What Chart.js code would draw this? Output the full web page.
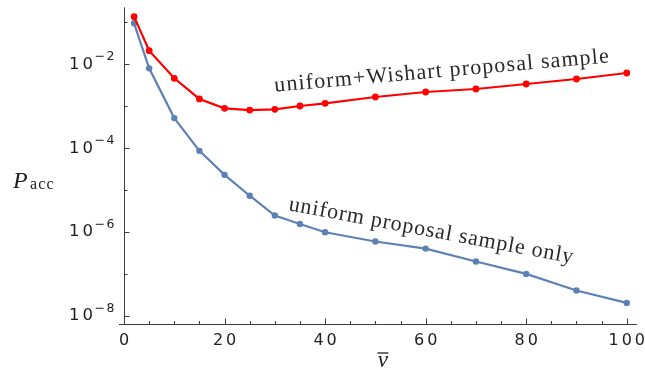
<!DOCTYPE html>
<html><head><meta charset="utf-8">
<script src="https://cdn.jsdelivr.net/npm/chart.js@4/dist/chart.umd.min.js"></script>
<style>html,body{margin:0;padding:0;background:#fff}#wrap{width:645px;height:369px}</style>
</head><body><div id="wrap"><canvas id="c" width="645" height="369"></canvas></div>
<script>
// ---- data ----
const nuValues = [2, 5, 10, 15, 20, 25, 30, 35, 40, 50, 60, 70, 80, 90, 100];
const pAccWishart = [0.137, 0.0211, 0.00463, 0.00149, 8.9e-4, 8.1e-4, 8.4e-4, 1.01e-3, 1.17e-3, 1.66e-3, 2.18e-3, 2.57e-3, 3.39e-3, 4.46e-3, 6.2e-3];
const pAccUniform = [0.095, 8.0e-3, 5.2e-4, 8.6e-5, 2.3e-5, 7.3e-6, 2.46e-6, 1.55e-6, 9.8e-7, 5.9e-7, 4.0e-7, 1.96e-7, 9.96e-8, 4.0e-8, 2.02e-8];
const seriesNames = ['uniform+Wishart proposal sample', 'uniform proposal sample only'];
const xMajorTicks = [0, 20, 40, 60, 80, 100];
const xTickLabels = ['0', '20', '40', '60', '80', '100'];
const xMinorTicks = [5, 10, 15, 25, 30, 35, 45, 50, 55, 65, 70, 75, 85, 90, 95];
const yMajorExponents = [-2, -4, -6, -8];
const yMinorExponents = [-1, -3, -5, -7];
// annotation anchors in data coordinates
const labelAnchorWishart = {x: 30, y: 2.22e-3, angle: -5.0};
const labelAnchorUniform = {x: 32.6, y: 3.3e-6, angle: 10.6};

const AXIS = '#3c3c3c';
const TEXT = '#1e1e1e';
const RED = '#ff0000';
const BLUE = '#5e81b5';

function drawSpaced(ctx, text, x, y, spacing) {
  try { ctx.letterSpacing = spacing + 'px'; } catch (e) {}
  ctx.fillText(text, x, y);
  try { ctx.letterSpacing = '0px'; } catch (e) {}
}
function spacedWidth(ctx, text, spacing) {
  try { ctx.letterSpacing = spacing + 'px'; } catch (e) {}
  const w = ctx.measureText(text).width - spacing;
  try { ctx.letterSpacing = '0px'; } catch (e) {}
  return w;
}

const axesPlugin = {
  id: 'mmaAxes',
  beforeDatasetsDraw(chart) {
    const {ctx, chartArea: a, scales: {x, y}} = chart;
    const x0 = Math.round(x.getPixelForValue(0)) + 0.5;
    const yb = Math.round(a.bottom) + 0.5;
    ctx.save();
    ctx.strokeStyle = AXIS;
    ctx.lineWidth = 1;
    ctx.beginPath();
    ctx.moveTo(a.left, yb); ctx.lineTo(a.right, yb);
    ctx.moveTo(x0, a.top); ctx.lineTo(x0, yb);
    xMajorTicks.forEach(v => { const p = Math.round(x.getPixelForValue(v)) + 0.5; ctx.moveTo(p, yb); ctx.lineTo(p, yb - 6); });
    xMinorTicks.forEach(v => { const p = Math.round(x.getPixelForValue(v)) + 0.5; ctx.moveTo(p, yb); ctx.lineTo(p, yb - 3.5); });
    yMajorExponents.forEach(e => { const p = Math.round(y.getPixelForValue(Math.pow(10, e))) + 0.5; ctx.moveTo(x0, p); ctx.lineTo(x0 + 5, p); });
    yMinorExponents.forEach(e => { const p = Math.round(y.getPixelForValue(Math.pow(10, e))) + 0.5; ctx.moveTo(x0, p); ctx.lineTo(x0 + 3, p); });
    ctx.stroke();

    // x tick labels
    ctx.fillStyle = TEXT;
    ctx.textBaseline = 'alphabetic';
    ctx.textAlign = 'left';
    ctx.font = '16px "DejaVu Sans"';
    xMajorTicks.forEach((v, i) => {
      const p = x.getPixelForValue(v);
      const w = spacedWidth(ctx, xTickLabels[i], 3);
      drawSpaced(ctx, xTickLabels[i], p - w / 2, a.bottom + 20.5, 3);
    });
    // y tick labels: 10^e
    yMajorExponents.forEach(e => {
      const p = y.getPixelForValue(Math.pow(10, e));
      const right = x0 - 10;
      ctx.font = '12.5px "DejaVu Sans"';
      const expText = '\u2212' + Math.abs(e);
      const we = spacedWidth(ctx, expText, 1.5);
      ctx.font = '16.5px "DejaVu Sans"';
      const wb = spacedWidth(ctx, '10', 3);
      const bx = right - we - 1.5 - wb;
      drawSpaced(ctx, '10', bx, p + 4.5, 3);
      ctx.font = '12.5px "DejaVu Sans"';
      drawSpaced(ctx, expText, right - we, p - 4, 1.5);
    });

    // axis titles
    ctx.font = 'italic 24px "Liberation Serif"';
    ctx.fillText('P', 13, 188);
    ctx.font = '16px "Liberation Serif"';
    drawSpaced(ctx, 'acc', 30, 189, 1.2);

    ctx.font = 'italic 23px "Liberation Serif"';
    const cx = x.getPixelForValue(51.5);
    const nw = ctx.measureText('\u03bd').width;
    ctx.fillText('\u03bd', cx - nw / 2, 367);
    ctx.beginPath();
    ctx.lineWidth = 1.3;
    ctx.strokeStyle = TEXT;
    ctx.moveTo(cx - 5.5, 353); ctx.lineTo(cx + 5.5, 353);
    ctx.stroke();
    ctx.restore();
  },
  afterDatasetsDraw(chart) {
    const {ctx, scales: {x, y}} = chart;
    ctx.save();
    ctx.fillStyle = '#2a2a2a';
    ctx.font = '22px "Liberation Serif"';
    ctx.textAlign = 'left';
    ctx.textBaseline = 'alphabetic';
    [[labelAnchorWishart, seriesNames[0], 1.15], [labelAnchorUniform, seriesNames[1], 0.9]].forEach(([an, txt, sp]) => {
      ctx.save();
      ctx.translate(x.getPixelForValue(an.x), y.getPixelForValue(an.y));
      ctx.rotate(an.angle * Math.PI / 180);
      drawSpaced(ctx, txt, 0, 0, sp);
      ctx.restore();
    });
    ctx.restore();
  }
};

new Chart(document.getElementById('c'), {
  type: 'line',
  data: {
    datasets: [
      {
        label: seriesNames[0],
        data: nuValues.map((v, i) => ({x: v, y: pAccWishart[i]})),
        borderColor: RED, backgroundColor: RED,
        borderWidth: 2.2, pointRadius: 3.4, pointBorderWidth: 0, pointHoverRadius: 3.4,
        tension: 0
      },
      {
        label: seriesNames[1],
        data: nuValues.map((v, i) => ({x: v, y: pAccUniform[i]})),
        borderColor: BLUE, backgroundColor: BLUE,
        borderWidth: 2.2, pointRadius: 3.2, pointBorderWidth: 0, pointHoverRadius: 3.2,
        tension: 0
      }
    ]
  },
  options: {
    responsive: false,
    animation: false,
    events: [],
    layout: {padding: {left: 119, right: 8.2, top: 7.3, bottom: 44.7}},
    plugins: {legend: {display: false}, tooltip: {enabled: false}},
    scales: {
      x: {type: 'linear', min: -1, max: 102, display: false},
      y: {type: 'logarithmic', min: Math.pow(10, -8.205), max: Math.pow(10, -0.64), display: false}
    }
  },
  plugins: [axesPlugin]
});
</script>
</body></html>
